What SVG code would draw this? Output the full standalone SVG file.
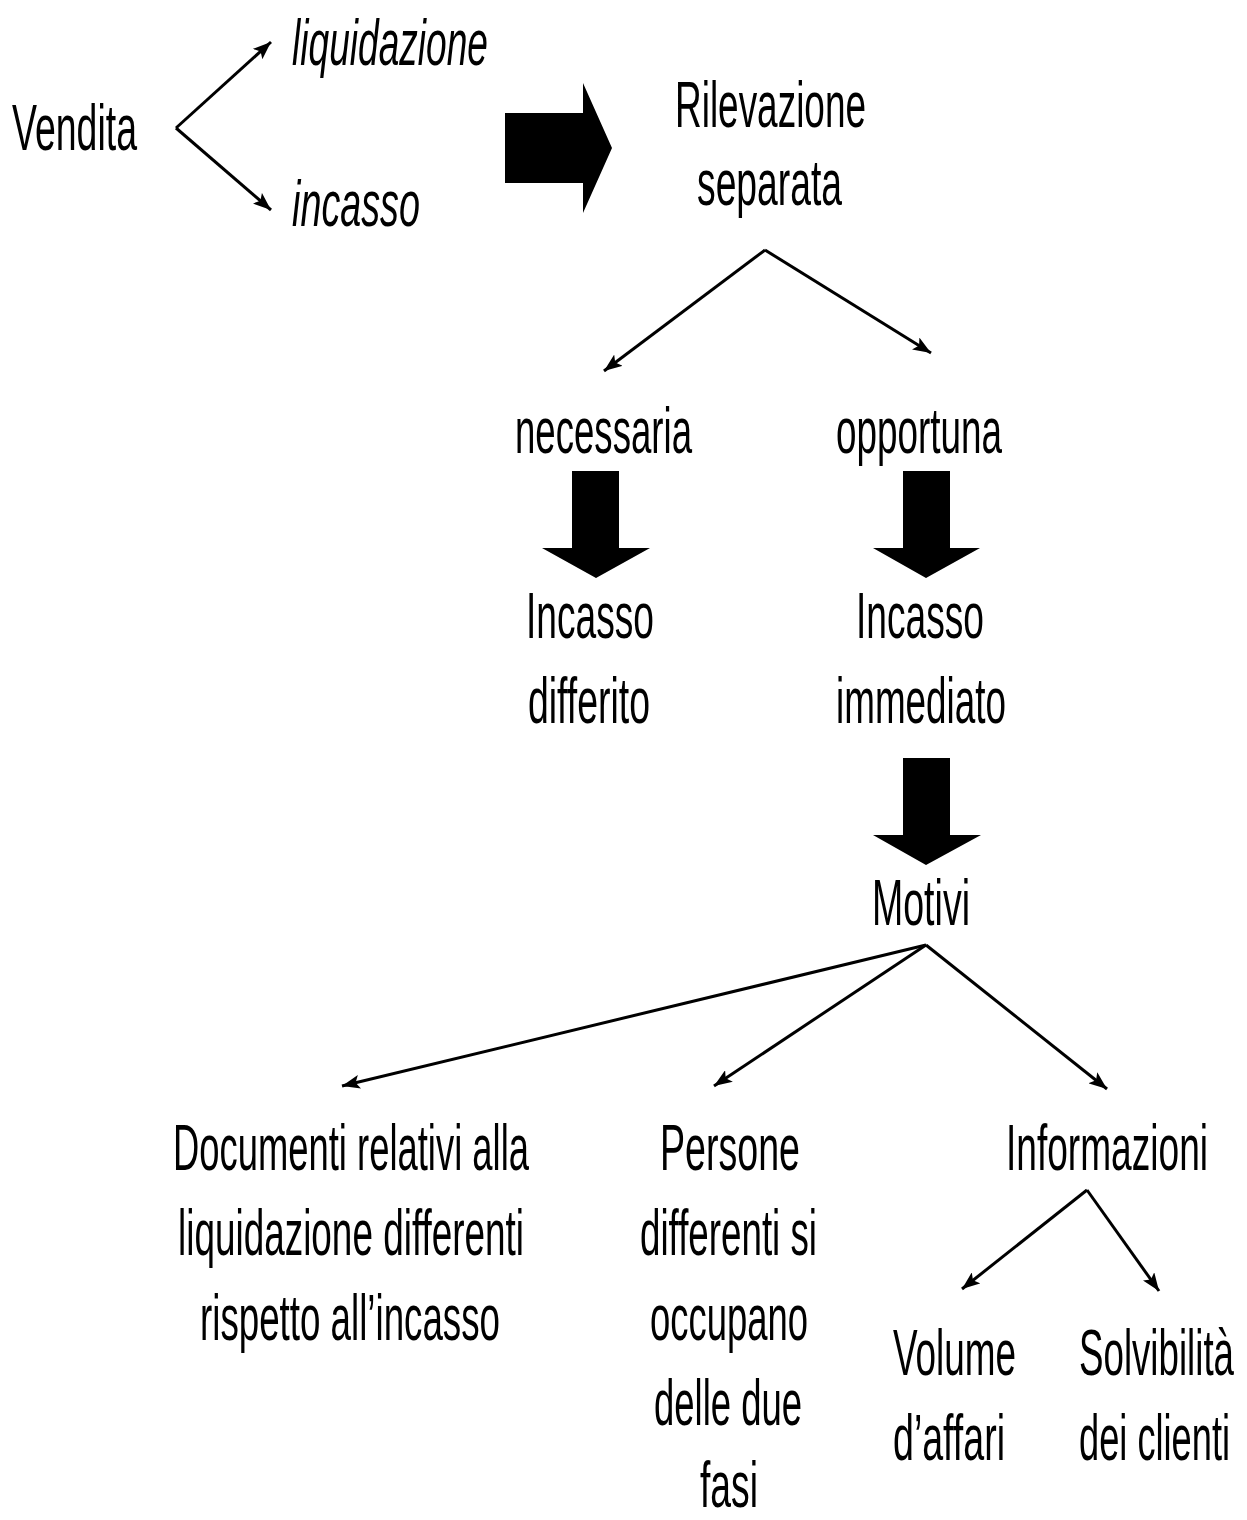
<svg xmlns="http://www.w3.org/2000/svg" width="1247" height="1520" viewBox="0 0 1247 1520">
<style>
text{font-family:"Liberation Sans",Arial,sans-serif;font-size:64px;fill:#000}
.it{font-style:italic}
.ln{stroke:#000;stroke-width:3;fill:none;marker-end:url(#ah)}
.blk{fill:#000}
</style>
<defs>
<marker id="ah" markerUnits="userSpaceOnUse" markerWidth="20" markerHeight="14" refX="18" refY="7" orient="auto">
<path d="M0,0 L18,7 L0,14 L4,7 Z" fill="#000"/>
</marker>
</defs>
<rect width="1247" height="1520" fill="#fff"/>
<g id="connectors">
<line class="ln" x1="176" y1="128" x2="271" y2="42"/>
<line class="ln" x1="176" y1="128" x2="271" y2="210"/>
<polygon class="blk" points="505,113 583,113 583,83 612,148 583,213 583,183 505,183"/>
<line class="ln" x1="765" y1="250" x2="604" y2="371"/>
<line class="ln" x1="765" y1="250" x2="931" y2="353"/>
<polygon class="blk" points="572,471 619,471 619,548 650,548 596,578 542,548 572,548"/>
<polygon class="blk" points="903,471 950,471 950,548 980,548 926,578 873,548 903,548"/>
<polygon class="blk" points="903,758 950,758 950,835 981,835 926,865 873,835 903,835"/>
<line class="ln" x1="926" y1="945" x2="342" y2="1086"/>
<line class="ln" x1="926" y1="945" x2="714" y2="1086"/>
<line class="ln" x1="926" y1="945" x2="1107" y2="1089"/>
<line class="ln" x1="1087" y1="1190" x2="962" y2="1289"/>
<line class="ln" x1="1087" y1="1190" x2="1159" y2="1291"/>
</g>
<g id="vendita"><text transform="matrix(0.6,0,0,1,12,150)" textLength="208.3" lengthAdjust="spacingAndGlyphs">Vendita</text></g>
<g id="liquidazione"><text class="it" transform="matrix(0.6,0,0,1,292,65)" textLength="326.7" lengthAdjust="spacingAndGlyphs">liquidazione</text></g>
<g id="incasso"><text class="it" transform="matrix(0.6,0,0,1,292,226)" textLength="213.3" lengthAdjust="spacingAndGlyphs">incasso</text></g>
<g id="rilevazione">
<text transform="matrix(0.6,0,0,1,675,127)" textLength="318.3" lengthAdjust="spacingAndGlyphs">Rilevazione</text>
<text transform="matrix(0.6,0,0,1,697,205)" textLength="241.7" lengthAdjust="spacingAndGlyphs">separata</text>
</g>
<g id="necessaria"><text transform="matrix(0.6,0,0,1,515,453)" textLength="295" lengthAdjust="spacingAndGlyphs">necessaria</text></g>
<g id="opportuna"><text transform="matrix(0.6,0,0,1,836,453)" textLength="276.7" lengthAdjust="spacingAndGlyphs">opportuna</text></g>
<g id="incasso-differito">
<text transform="matrix(0.6,0,0,1,526,638)" textLength="213.3" lengthAdjust="spacingAndGlyphs">Incasso</text>
<text transform="matrix(0.6,0,0,1,528,723)" textLength="203.3" lengthAdjust="spacingAndGlyphs">differito</text>
</g>
<g id="incasso-immediato">
<text transform="matrix(0.6,0,0,1,856,638)" textLength="213.3" lengthAdjust="spacingAndGlyphs">Incasso</text>
<text transform="matrix(0.6,0,0,1,836,723)" textLength="283.3" lengthAdjust="spacingAndGlyphs">immediato</text>
</g>
<g id="motivi"><text transform="matrix(0.6,0,0,1,872,925)" textLength="163.3" lengthAdjust="spacingAndGlyphs">Motivi</text></g>
<g id="documenti">
<text transform="matrix(0.6,0,0,1,173,1170)" textLength="593.3" lengthAdjust="spacingAndGlyphs">Documenti relativi alla</text>
<text transform="matrix(0.6,0,0,1,178,1255)" textLength="576.7" lengthAdjust="spacingAndGlyphs">liquidazione differenti</text>
<text transform="matrix(0.6,0,0,1,200,1340)" textLength="500" lengthAdjust="spacingAndGlyphs">rispetto all’incasso</text>
</g>
<g id="persone">
<text transform="matrix(0.6,0,0,1,660,1170)" textLength="233.3" lengthAdjust="spacingAndGlyphs">Persone</text>
<text transform="matrix(0.6,0,0,1,640,1255)" textLength="295" lengthAdjust="spacingAndGlyphs">differenti si</text>
<text transform="matrix(0.6,0,0,1,650,1340)" textLength="263.3" lengthAdjust="spacingAndGlyphs">occupano</text>
<text transform="matrix(0.6,0,0,1,654,1425)" textLength="246.7" lengthAdjust="spacingAndGlyphs">delle due</text>
<text transform="matrix(0.6,0,0,1,700,1507)" textLength="96.7" lengthAdjust="spacingAndGlyphs">fasi</text>
</g>
<g id="informazioni"><text transform="matrix(0.6,0,0,1,1006,1170)" textLength="336.7" lengthAdjust="spacingAndGlyphs">Informazioni</text></g>
<g id="volume">
<text transform="matrix(0.6,0,0,1,893,1375)" textLength="205" lengthAdjust="spacingAndGlyphs">Volume</text>
<text transform="matrix(0.6,0,0,1,893,1460)" textLength="186.7" lengthAdjust="spacingAndGlyphs">d’affari</text>
</g>
<g id="solvibilita">
<text transform="matrix(0.6,0,0,1,1079,1375)" textLength="258.3" lengthAdjust="spacingAndGlyphs">Solvibilità</text>
<text transform="matrix(0.6,0,0,1,1079,1460)" textLength="251.7" lengthAdjust="spacingAndGlyphs">dei clienti</text>
</g>
</svg>
